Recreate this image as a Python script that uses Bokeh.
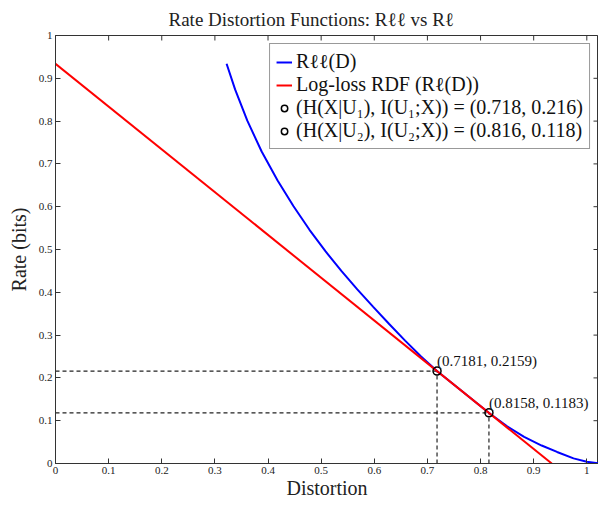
import math
from bokeh.plotting import figure
from bokeh.models import FixedTicker, Range1d, Legend, LegendItem
from bokeh.embed import file_html
from bokeh.resources import INLINE

# ---- data ----
blue_D = [0.322, 0.338, 0.361, 0.388, 0.418, 0.448, 0.478, 0.508, 0.538, 0.568,
          0.598, 0.628, 0.658, 0.688, 0.718, 0.767, 0.816, 0.850, 0.882, 0.915,
          0.944, 0.975, 1.000, 1.022]
blue_R = [0.934, 0.874, 0.801, 0.729, 0.661, 0.601, 0.546, 0.496, 0.450, 0.407,
          0.366, 0.326, 0.287, 0.250, 0.216, 0.167, 0.118, 0.087, 0.062, 0.042,
          0.027, 0.012, 0.004, 0.0005]
red_D = [0.0, 0.934]
red_R = [0.934, 0.0]
pts_D = [0.7181, 0.8158]
pts_R = [0.2159, 0.1183]
pt_labels = ["(0.7181, 0.2159)", "(0.8158, 0.1183)"]
legend_labels = ["Rℓℓ(D)", "Log-loss RDF (Rℓ(D))",
                 "(H(X|U₁), I(U₁;X)) = (0.718, 0.216)",
                 "(H(X|U₂), I(U₂;X)) = (0.816, 0.118)"]
x_ticks = [0, 0.1, 0.2, 0.3, 0.4, 0.5, 0.6, 0.7, 0.8, 0.9, 1]
y_ticks = [0, 0.1, 0.2, 0.3, 0.4, 0.5, 0.6, 0.7, 0.8, 0.9, 1]
x_tick_labels = ["0", "0.1", "0.2", "0.3", "0.4", "0.5", "0.6", "0.7", "0.8", "0.9", "1"]
y_tick_labels = ["0", "0.1", "0.2", "0.3", "0.4", "0.5", "0.6", "0.7", "0.8", "0.9", "1"]
X_MAX = 1.022
Y_MAX = 1.0

SERIF = "Liberation Serif"
AX = "#333333"

p = figure(width=598, height=506, output_backend="svg", toolbar_location=None,
           x_range=Range1d(0, X_MAX), y_range=Range1d(0, Y_MAX),
           min_border_left=55, min_border_right=0, min_border_top=35,
           min_border_bottom=43)
p.xgrid.visible = False
p.ygrid.visible = False
p.outline_line_color = AX
p.background_fill_color = "white"
p.border_fill_color = "white"

p.title.text = "Rate Distortion Functions: Rℓℓ vs Rℓ"
p.title.text_font = SERIF
p.title.text_font_style = "normal"
p.title.text_font_size = "19px"
p.title.text_color = "#222222"
p.title.align = "left"
p.title.offset = 113
p.title.standoff = 11

def style_axis(ax, ticks, labels):
    ax.ticker = FixedTicker(ticks=ticks)
    ax.axis_line_color = AX
    ax.major_tick_line_color = AX
    ax.major_tick_in = 5
    ax.major_tick_out = 0
    ax.minor_tick_line_color = None
    ax.major_label_overrides = {t: l for t, l in zip(ticks, labels)}
    ax.major_label_text_font = SERIF
    ax.major_label_text_font_size = "11px"
    ax.major_label_text_color = "#222222"
    ax.major_label_standoff = 3
    ax.axis_label_text_font = SERIF
    ax.axis_label_text_font_style = "normal"
    ax.axis_label_text_font_size = "20px"
    ax.axis_label_text_color = "#222222"
    ax.axis_label_standoff = 0

xa = p.xaxis[0]
ya = p.yaxis[0]
style_axis(xa, x_ticks, x_tick_labels)
style_axis(ya, y_ticks, y_tick_labels)
xa.axis_label = "Distortion"
ya.axis_label = "Rate (bits)"
ya.axis_label_standoff = 6

# mirrored tick marks on top and right edges (clipped to the frame)
p.scatter(x=x_ticks, y=[Y_MAX] * len(x_ticks), marker="dash", angle=math.pi / 2,
          size=10, line_color=AX, line_width=1)
p.scatter(x=[X_MAX] * len(y_ticks), y=y_ticks, marker="dash",
          size=10, line_color=AX, line_width=1)

# dashed guide lines
p.segment(x0=[0] * len(pts_D), y0=pts_R, x1=pts_D, y1=pts_R,
          line_color="#222222", line_width=1.2, line_dash="4 3")
p.segment(x0=pts_D, y0=[0] * len(pts_D), x1=pts_D, y1=pts_R,
          line_color="#222222", line_width=1.2, line_dash="4 3")

r_blue = p.line(blue_D, blue_R, line_color="#0000ff", line_width=2)
r_red = p.line(red_D, red_R, line_color="#ff0000", line_width=2)

pt_r = []
for i in range(len(pts_D)):
    r = p.scatter([pts_D[i]], [pts_R[i]], marker="circle", size=8,
                  fill_color=None, line_color="black", line_width=1.5)
    pt_r.append(r)

p.text(x=pts_D, y=pts_R, text=pt_labels, text_font_size="15px",
       text_font={"value": SERIF}, text_baseline="bottom", text_align="left",
       y_offset=-2, text_color="#111111")

legend = Legend(items=[LegendItem(label=legend_labels[0], renderers=[r_blue]),
                       LegendItem(label=legend_labels[1], renderers=[r_red]),
                       LegendItem(label=legend_labels[2], renderers=[pt_r[0]]),
                       LegendItem(label=legend_labels[3], renderers=[pt_r[1]])],
                location="top_right")
legend.label_text_font = SERIF
legend.label_text_font_size = "20px"
legend.label_text_color = "#111111"
legend.label_standoff = 4
legend.glyph_width = 16
legend.glyph_height = 18
legend.label_height = 18
legend.spacing = 0
legend.padding = 6
legend.margin = 8
legend.border_line_color = AX
legend.border_line_width = 1
legend.background_fill_alpha = 1
p.add_layout(legend)

open("out.html", "w").write(file_html(p, INLINE))
